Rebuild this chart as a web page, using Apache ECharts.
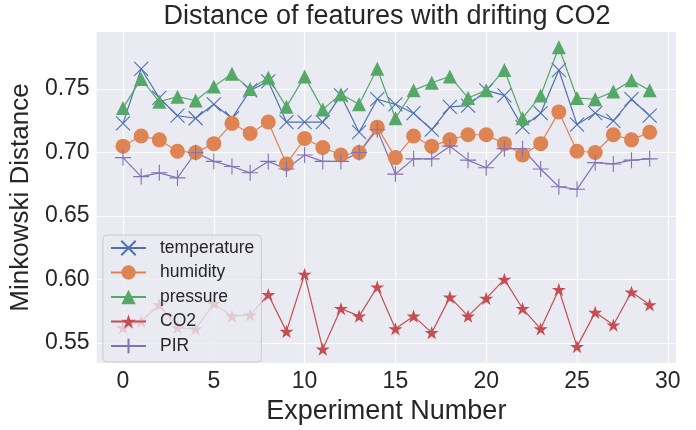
<!DOCTYPE html>
<html>
<head>
<meta charset="utf-8">
<script src="https://cdn.jsdelivr.net/npm/echarts@6/dist/echarts.min.js"></script>
<style>
html,body{margin:0;padding:0;background:#fff;}
#chart{width:696px;height:430px;}
</style>
</head>
<body>
<div id="chart"></div>
<script>
var experiments = [0,1,2,3,4,5,6,7,8,9,10,11,12,13,14,15,16,17,18,19,20,21,22,23,24,25,26,27,28,29];
var temperature = [0.723,0.766,0.743,0.729,0.727,0.738,0.727,0.749,0.756,0.724,0.724,0.724,0.745,0.716,0.742,0.738,0.731,0.718,0.736,0.737,0.749,0.745,0.720,0.731,0.765,0.722,0.731,0.725,0.742,0.729];
var humidity = [0.705,0.713,0.710,0.701,0.700,0.707,0.723,0.715,0.724,0.691,0.711,0.704,0.698,0.700,0.720,0.696,0.713,0.705,0.710,0.714,0.714,0.707,0.698,0.707,0.732,0.701,0.700,0.714,0.710,0.716];
var pressure = [0.735,0.758,0.740,0.744,0.741,0.752,0.762,0.750,0.759,0.736,0.760,0.734,0.746,0.738,0.766,0.727,0.749,0.755,0.760,0.743,0.749,0.765,0.727,0.745,0.783,0.743,0.742,0.748,0.757,0.749];
var co2 = [0.562,0.567,0.580,0.562,0.561,0.581,0.571,0.572,0.588,0.559,0.604,0.545,0.577,0.571,0.594,0.561,0.571,0.558,0.586,0.571,0.585,0.600,0.577,0.561,0.592,0.547,0.574,0.564,0.590,0.580];
var pir = [0.696,0.681,0.684,0.680,0.700,0.693,0.689,0.684,0.693,0.687,0.698,0.693,0.693,0.700,0.718,0.683,0.695,0.695,0.705,0.694,0.688,0.703,0.703,0.687,0.673,0.671,0.692,0.691,0.694,0.695];
var xTicks = [0,5,10,15,20,25,30];
var yTicks = [0.55,0.60,0.65,0.70,0.75];

var FONT = '"Liberation Sans", Arial, sans-serif';
var TXT = '#262626';
var STAR = 'path://M50,0L61.23,34.55L97.55,34.55L68.17,55.9L79.39,90.45L50,69.1L20.61,90.45L31.83,55.9L2.45,34.55L38.77,34.55Z';
var XMARK = 'path://M0,0L10,10M10,0L0,10';
var PLUS = 'path://M5,0L5,10M0,5L10,5';

function pairs(vals){ return experiments.map(function(x,i){ return [x, vals[i]]; }); }

function mk(name, vals, color, symbol, size, stroke){
  return {
    name: name, type: 'line', data: pairs(vals),
    symbol: symbol, symbolSize: size, symbolKeepAspect: true,
    showAllSymbol: true,
    lineStyle: {color: color, width: 1.2},
    itemStyle: stroke ? {color: color, borderColor: color, borderWidth: 1.1} : {color: color, borderWidth: 0},
    emphasis: {disabled: true},
    z: 2
  };
}

var chart = echarts.init(document.getElementById('chart'), null, {renderer: 'canvas'});
chart.setOption({
  animation: false,
  backgroundColor: '#ffffff',
  title: {
    text: 'Distance of features with drifting CO2',
    left: 387, top: 3, padding: 0, textAlign: 'center',
    textStyle: {fontFamily: FONT, fontSize: 27, fontWeight: 'normal', color: TXT}
  },
  grid: {left: 96, right: 20, top: 32, bottom: 59, show: true, backgroundColor: '#EAEAF2', borderWidth: 0},
  xAxis: {
    type: 'value', min: -1.45, max: 30.45,
    name: 'Experiment Number', nameLocation: 'middle', nameGap: 28,
    nameTextStyle: {fontFamily: FONT, fontSize: 27, color: TXT},
    axisLine: {show: false},
    axisTick: {show: false, customValues: xTicks},
    axisLabel: {customValues: xTicks, fontFamily: FONT, fontSize: 23, color: TXT, margin: 7},
    splitLine: {show: true, lineStyle: {color: '#ffffff', width: 1.2}}
  },
  yAxis: {
    type: 'value', min: 0.534, max: 0.795,
    name: 'Minkowski Distance', nameLocation: 'middle', nameGap: 59,
    nameTextStyle: {fontFamily: FONT, fontSize: 26, color: TXT},
    axisLine: {show: false},
    axisTick: {show: false, customValues: yTicks},
    axisLabel: {customValues: yTicks, fontFamily: FONT, fontSize: 23, color: TXT, margin: 7,
      formatter: function(v){ return v.toFixed(2); }},
    splitLine: {show: true, lineStyle: {color: '#ffffff', width: 1.2}}
  },
  legend: {
    orient: 'vertical', left: 103, top: 235,
    padding: [4, 7, 7, 7],
    itemWidth: 35, itemHeight: 18, itemGap: 6.5,
    backgroundColor: 'rgba(234,234,242,0.8)',
    borderColor: '#cccccc', borderWidth: 1, borderRadius: 4,
    textStyle: {fontFamily: FONT, fontSize: 17.5, color: TXT, padding: [0,0,0,9]},
    data: ['temperature','humidity','pressure','CO2','PIR'],
    selectedMode: false
  },
  series: [
    mk('temperature', temperature, '#4C72B0', XMARK, 14, true),
    mk('humidity', humidity, '#DD8452', 'circle', 15, false),
    mk('pressure', pressure, '#55A868', 'triangle', 14, false),
    mk('CO2', co2, '#C44E52', STAR, 14, false),
    mk('PIR', pir, '#8172B3', PLUS, 16, true)
  ]
});
</script>
</body>
</html>
